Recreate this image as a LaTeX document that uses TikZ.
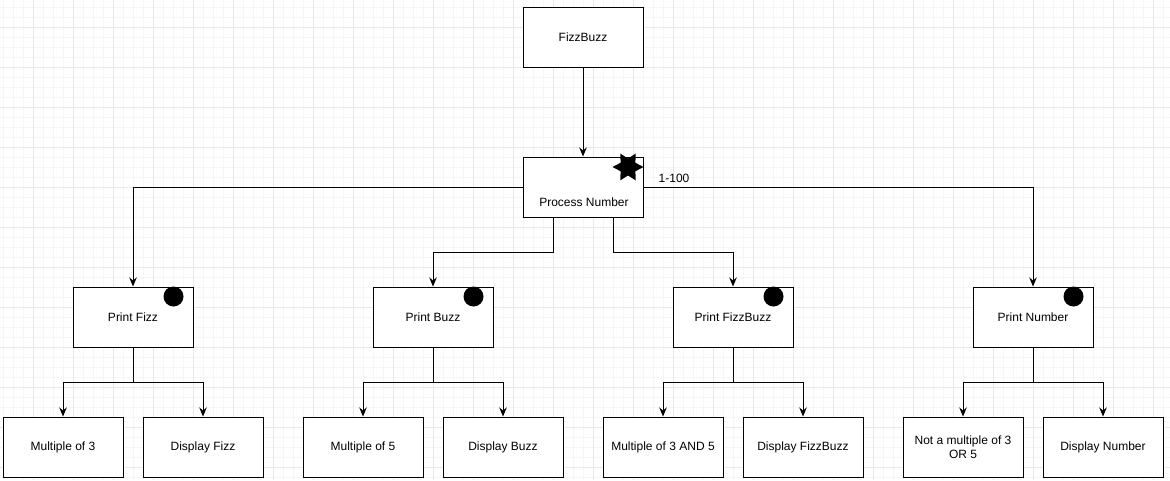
\documentclass[tikz,border=0pt]{standalone}
\usepackage{fontspec}
\setmainfont{Liberation Sans}
\usetikzlibrary{arrows.meta,calc}
\begin{document}
\begin{tikzpicture}[x=1pt,y=-1pt,
  box/.style={draw=black,line width=1pt,fill=white,minimum width=120pt,minimum height=60pt,inner sep=0pt,font=\fontsize{12}{14}\selectfont,align=center},
  arr/.style={draw=black,line width=1pt,-{Stealth[length=9pt,width=7.5pt,inset=3pt]}},
  dot/.style={fill=black},
  lbl/.style={font=\fontsize{12}{14}\selectfont,inner sep=0pt}]
\useasboundingbox (0,0) rectangle (1170,480);
% grid
\begin{scope}
\clip (0,0) rectangle (1170,480);
\foreach \x in {3,13,...,1170} \draw[black!4,line width=0.8pt] (\x,0) -- (\x,480);
\foreach \y in {7,17,...,480} \draw[black!4,line width=0.8pt] (0,\y) -- (1170,\y);
\foreach \x in {33,73,...,1170} \draw[black!9,line width=0.8pt] (\x,0) -- (\x,480);
\foreach \y in {27,67,...,480} \draw[black!9,line width=0.8pt] (0,\y) -- (1170,\y);
\end{scope}
% nodes
\node[box] (fb) at (583,37) {FizzBuzz};
\node[box] (pn) at (583,187) {};
\node[lbl] (pntext) at (584,202) {Process Number};
\node[lbl] (range) at (674,178) {1-100};
\node[box] (pf) at (133,317) {Print Fizz};
\node[box] (pb) at (433,317) {Print Buzz};
\node[box] (pfb) at (733,317) {Print FizzBuzz};
\node[box] (pnum) at (1033,317) {Print Number};
\node[box] (m3) at (63,447) {Multiple of 3};
\node[box] (df) at (203,447) {Display Fizz};
\node[box] (m5) at (363,447) {Multiple of 5};
\node[box] (db) at (503,447) {Display Buzz};
\node[box] (m35) at (663,447) {Multiple of 3 AND 5};
\node[box] (dfb) at (803,447) {Display FizzBuzz};
\node[box] (nm) at (963,447) {Not a multiple of 3\\OR 5};
\node[box] (dn) at (1103,447) {Display Number};
% markers
\coordinate (sc) at (628,167);
\fill[black] (sc) +(0:15.5) -- +(30:8.5) -- +(60:15.5) -- +(90:8.5) -- +(120:15.5) -- +(150:8.5) -- +(180:15.5) -- +(210:8.5) -- +(240:15.5) -- +(270:8.5) -- +(300:15.5) -- +(330:8.5) -- cycle;
\foreach \n in {pf,pb,pfb,pnum} \fill[dot] ($(\n.north east)+(-20,10)$) circle (10);
% connectors
\draw[arr] (fb.south) -- (pn.north);
\draw[arr] (pn.west) -| (pf.north);
\draw[arr] (pn.east) -| (pnum.north);
\draw[arr] ([xshift=-30pt]pn.south) -- ++(0,35) -| (pb.north);
\draw[arr] ([xshift=30pt]pn.south) -- ++(0,35) -| (pfb.north);
\draw[arr] (pf.south) -- ++(0,35) -| (m3.north);
\draw[arr] (pf.south) -- ++(0,35) -| (df.north);
\draw[arr] (pb.south) -- ++(0,35) -| (m5.north);
\draw[arr] (pb.south) -- ++(0,35) -| (db.north);
\draw[arr] (pfb.south) -- ++(0,35) -| (m35.north);
\draw[arr] (pfb.south) -- ++(0,35) -| (dfb.north);
\draw[arr] (pnum.south) -- ++(0,35) -| (nm.north);
\draw[arr] (pnum.south) -- ++(0,35) -| (dn.north);
\end{tikzpicture}
\end{document}
